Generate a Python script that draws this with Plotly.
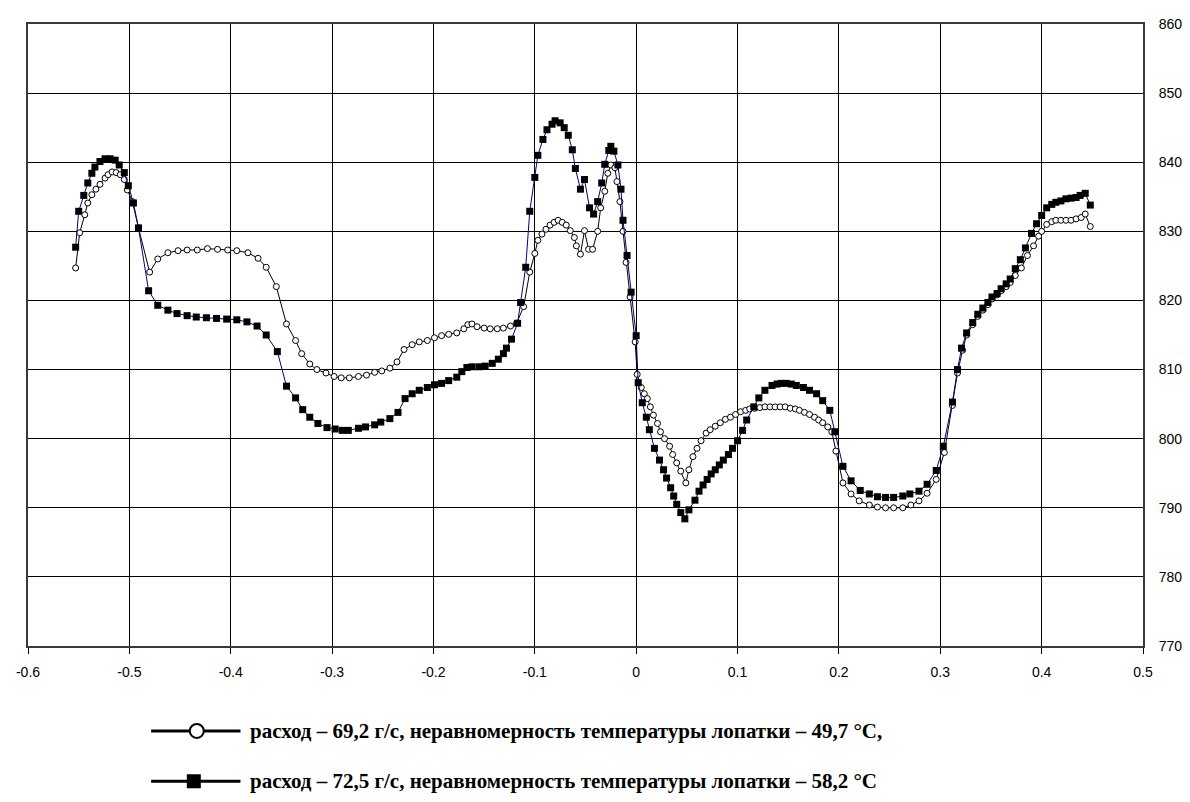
import plotly.graph_objects as go

# Series 1: open circles (расход 69,2 г/с)
X1 = [-0.553, -0.549, -0.544, -0.541, -0.537, -0.533, -0.529, -0.524, -0.521, -0.517,
      -0.513, -0.509, -0.505, -0.502, -0.497, -0.491, -0.480, -0.472, -0.462, -0.452,
      -0.443, -0.433, -0.423, -0.413, -0.403, -0.394, -0.383, -0.373, -0.365, -0.355,
      -0.345, -0.336, -0.330, -0.322, -0.315, -0.306, -0.298, -0.291, -0.283, -0.274,
      -0.266, -0.258, -0.251, -0.243, -0.236, -0.229, -0.221, -0.214, -0.206, -0.199,
      -0.192, -0.185, -0.177, -0.170, -0.166, -0.162, -0.157, -0.150, -0.144, -0.137,
      -0.131, -0.124, -0.118, -0.111, -0.105, -0.100, -0.097, -0.093, -0.089, -0.085,
      -0.081, -0.077, -0.073, -0.069, -0.065, -0.061, -0.059, -0.055, -0.051, -0.047,
      -0.043, -0.038, -0.035, -0.031, -0.028, -0.025, -0.021, -0.019, -0.016, -0.013,
      -0.010, -0.006, -0.001, 0.001, 0.005, 0.008, 0.011, 0.014, 0.017, 0.021,
      0.024, 0.028, 0.033, 0.036, 0.040, 0.044, 0.049, 0.052, 0.056, 0.060,
      0.064, 0.069, 0.073, 0.078, 0.083, 0.088, 0.093, 0.098, 0.103, 0.108,
      0.112, 0.117, 0.122, 0.127, 0.132, 0.137, 0.142, 0.147, 0.152, 0.157,
      0.161, 0.166, 0.171, 0.176, 0.180, 0.184, 0.189, 0.193, 0.197, 0.204,
      0.212, 0.220, 0.230, 0.238, 0.246, 0.254, 0.263, 0.271, 0.279, 0.287,
      0.296, 0.304, 0.312, 0.317, 0.322, 0.326, 0.332, 0.337, 0.342, 0.347,
      0.351, 0.356, 0.360, 0.365, 0.369, 0.374, 0.380, 0.386, 0.392, 0.397,
      0.400, 0.405, 0.410, 0.414, 0.419, 0.424, 0.429, 0.434, 0.439, 0.443, 0.448]
Y1 = [824.7, 829.8, 832.4, 834.1, 835.3, 836.1, 836.8, 837.7, 838.2, 838.6,
      838.5, 838.2, 837.5, 836.0, 834.3, 830.5, 824.1, 826.0, 826.9, 827.2,
      827.3, 827.3, 827.5, 827.4, 827.3, 827.2, 826.9, 826.1, 824.8, 822.0,
      816.6, 814.2, 812.3, 810.8, 810.0, 809.5, 809.0, 808.8, 808.8, 809.0,
      809.2, 809.6, 809.8, 810.2, 811.1, 812.9, 813.6, 814.0, 814.2, 814.6,
      814.9, 815.1, 815.3, 815.9, 816.5, 816.6, 816.2, 816.0, 815.9, 815.9,
      816.0, 816.3, 816.7, 819.1, 824.1, 826.8, 828.7, 829.6, 830.3, 830.9,
      831.3, 831.6, 831.3, 830.9, 830.1, 829.1, 827.9, 826.7, 830.1, 827.4,
      827.4, 830.0, 833.4, 835.8, 838.4, 839.6, 839.2, 837.2, 834.3, 830.0,
      825.5, 820.5, 814.0, 809.3, 807.4, 806.5, 805.8, 804.6, 803.4, 802.2,
      801.0, 800.0, 798.9, 797.7, 796.5, 795.3, 793.6, 795.5, 797.4, 798.6,
      799.7, 800.8, 801.3, 801.8, 802.3, 802.8, 803.1, 803.5, 803.9, 804.1,
      804.3, 804.4, 804.5, 804.6, 804.6, 804.6, 804.6, 804.6, 804.4, 804.3,
      804.1, 803.8, 803.5, 803.1, 802.7, 802.3, 801.7, 801.0, 798.2, 793.6,
      792.0, 791.0, 790.4, 790.1, 790.0, 790.0, 790.0, 790.4, 791.0, 792.1,
      794.1, 798.0, 804.8, 809.5, 812.8, 815.0, 816.5, 817.7, 818.6, 819.4,
      820.2, 820.8, 821.4, 822.0, 822.6, 823.6, 824.7, 826.5, 827.9, 829.3,
      830.0, 831.0, 831.4, 831.6, 831.6, 831.6, 831.6, 831.8, 832.0, 832.5, 830.7]

# Series 2: filled squares (расход 72,5 г/с)
X2 = [-0.553, -0.550, -0.545, -0.541, -0.537, -0.534, -0.529, -0.524, -0.519, -0.514,
      -0.510, -0.505, -0.501, -0.496, -0.491, -0.481, -0.472, -0.462, -0.453, -0.443,
      -0.434, -0.424, -0.414, -0.404, -0.394, -0.384, -0.374, -0.365, -0.354, -0.345,
      -0.336, -0.329, -0.322, -0.314, -0.305, -0.297, -0.290, -0.284, -0.274, -0.267,
      -0.258, -0.252, -0.243, -0.235, -0.228, -0.221, -0.214, -0.206, -0.199, -0.192,
      -0.185, -0.177, -0.172, -0.167, -0.162, -0.155, -0.149, -0.142, -0.136, -0.131,
      -0.128, -0.123, -0.117, -0.114, -0.109, -0.105, -0.100, -0.097, -0.092, -0.088,
      -0.083, -0.080, -0.075, -0.071, -0.067, -0.063, -0.060, -0.055, -0.051, -0.046,
      -0.042, -0.038, -0.034, -0.031, -0.027, -0.025, -0.022, -0.018, -0.015, -0.013,
      -0.009, -0.005, 0.000, 0.002, 0.006, 0.010, 0.013, 0.018, 0.023, 0.027,
      0.030, 0.034, 0.037, 0.040, 0.044, 0.048, 0.052, 0.058, 0.062, 0.066,
      0.070, 0.074, 0.078, 0.082, 0.086, 0.091, 0.095, 0.100, 0.105, 0.109,
      0.116, 0.121, 0.127, 0.134, 0.139, 0.143, 0.148, 0.153, 0.158, 0.165,
      0.171, 0.178, 0.184, 0.191, 0.196, 0.204, 0.212, 0.221, 0.230, 0.238,
      0.246, 0.254, 0.263, 0.270, 0.279, 0.287, 0.296, 0.303, 0.312, 0.317,
      0.321, 0.326, 0.332, 0.337, 0.342, 0.347, 0.351, 0.356, 0.360, 0.365,
      0.369, 0.374, 0.379, 0.384, 0.390, 0.395, 0.400, 0.405, 0.410, 0.414,
      0.419, 0.424, 0.429, 0.434, 0.438, 0.443, 0.448]
Y2 = [827.7, 832.9, 835.2, 837.0, 838.4, 839.3, 840.1, 840.5, 840.5, 840.3,
      839.6, 838.5, 836.6, 834.1, 830.5, 821.4, 819.3, 818.6, 818.1, 817.8,
      817.6, 817.5, 817.4, 817.3, 817.2, 816.9, 816.3, 815.0, 812.6, 807.6,
      805.9, 804.2, 803.1, 802.2, 801.6, 801.4, 801.2, 801.2, 801.5, 801.7,
      802.0, 802.4, 802.9, 803.8, 805.8, 806.5, 807.0, 807.4, 807.8, 808.0,
      808.4, 808.9, 809.7, 810.3, 810.4, 810.4, 810.5, 810.9, 811.5, 812.3,
      813.1, 814.4, 816.7, 819.7, 824.8, 832.9, 837.8, 841.0, 843.3, 844.7,
      845.5, 846.0, 845.7, 845.0, 843.9, 841.8, 839.1, 836.1, 837.5, 833.4,
      832.5, 834.3, 837.0, 839.7, 841.7, 842.3, 841.6, 839.6, 836.1, 831.6,
      826.5, 821.2, 814.9, 808.1, 805.2, 803.1, 801.3, 798.6, 796.9, 795.5,
      794.3, 792.9, 791.7, 790.5, 789.3, 788.4, 789.7, 791.1, 792.4, 793.3,
      794.1, 794.9, 795.5, 796.2, 796.9, 797.7, 798.6, 799.7, 801.2, 802.7,
      804.6, 805.9, 807.0, 807.7, 807.9, 808.0, 808.0, 807.9, 807.7, 807.4,
      807.0, 806.5, 805.5, 804.1, 801.0, 796.0, 793.9, 792.5, 792.0, 791.6,
      791.5, 791.5, 791.7, 792.0, 792.4, 793.4, 795.4, 798.9, 805.3, 810.0,
      813.1, 815.3, 816.8, 818.0, 818.9, 819.7, 820.5, 821.0, 821.7, 822.4,
      823.1, 824.6, 825.9, 827.6, 829.7, 831.1, 832.3, 833.4, 833.9, 834.2,
      834.4, 834.7, 834.8, 834.9, 835.2, 835.5, 833.8]

X_TICKS = [-0.6, -0.5, -0.4, -0.3, -0.2, -0.1, 0.0, 0.1, 0.2, 0.3, 0.4, 0.5]
X_LABELS = ["-0.6", "-0.5", "-0.4", "-0.3", "-0.2", "-0.1", "0", "0.1", "0.2", "0.3", "0.4", "0.5"]
Y_TICKS = [770, 780, 790, 800, 810, 820, 830, 840, 850, 860]

LEGEND = ["расход – 69,2 г/с, неравномерность температуры лопатки – 49,7 °C,",
          "расход – 72,5 г/с, неравномерность температуры лопатки – 58,2 °C"]

# The page body has an 8 px default margin, so the figure is made smaller
# and its margins are reduced so the plot lands where the reference has it.
OFF = 8
W, H = 1182, 786
L, T = 18, 8
pw, ph = 1123, 630
R = W - L - pw
B = H - T - ph

def fx(xw):
    # window x pixel -> paper fraction
    return (xw - OFF - L) / pw

def fy(yw):
    # window y pixel -> paper fraction
    return (H - B - (yw - OFF)) / ph

fig = go.Figure()
fig.add_trace(go.Scatter(
    x=X1, y=Y1, mode="lines+markers", name=LEGEND[0],
    line=dict(color="black", width=1),
    marker=dict(symbol="circle", size=6, color="white", line=dict(color="black", width=1)),
    showlegend=False))
fig.add_trace(go.Scatter(
    x=X2, y=Y2, mode="lines+markers", name=LEGEND[1],
    line=dict(color="#000080", width=1),
    marker=dict(symbol="square", size=7, color="black", line=dict(color="black", width=0)),
    showlegend=False))

axis_common = dict(showgrid=True, gridcolor="black", gridwidth=1,
                   showline=True, linecolor="#3a3a3a", linewidth=2, mirror=True,
                   zeroline=False,
                   tickfont=dict(family="Liberation Sans, Arial", size=14, color="black"))

fig.update_xaxes(range=[-0.6, 0.5], tickvals=X_TICKS, ticktext=X_LABELS,
                 ticks="outside", ticklen=6, tickcolor="black", ticklabelstandoff=6,
                 **axis_common)
fig.update_yaxes(range=[770, 860], tickvals=Y_TICKS, side="right",
                 ticks="", ticklabelstandoff=11, **axis_common)

shapes = []
annotations = []
rows_y = [732, 783]
for i, ry in enumerate(rows_y):
    shapes.append(dict(type="line", xref="paper", yref="paper",
                       x0=fx(150), x1=fx(240), y0=fy(ry), y1=fy(ry),
                       line=dict(color="black", width=3)))
    if i == 0:
        shapes.append(dict(type="circle", xref="paper", yref="paper",
                           xsizemode="pixel", ysizemode="pixel",
                           xanchor=fx(196), yanchor=fy(ry),
                           x0=-7, x1=7, y0=-7, y1=7,
                           fillcolor="white", line=dict(color="black", width=2)))
    else:
        shapes.append(dict(type="rect", xref="paper", yref="paper",
                           xsizemode="pixel", ysizemode="pixel",
                           xanchor=fx(193), yanchor=fy(ry),
                           x0=-7, x1=7, y0=-7, y1=7,
                           fillcolor="black", line=dict(color="black", width=0)))
    annotations.append(dict(text="<b>" + LEGEND[i] + "</b>", xref="paper", yref="paper",
                            x=fx(248), y=fy(ry), xanchor="left", yanchor="middle",
                            showarrow=False,
                            font=dict(family="Liberation Serif, Times New Roman", size=21, color="black")))

fig.update_layout(width=W, height=H, margin=dict(l=L, r=R, t=T, b=B),
                  plot_bgcolor="white", paper_bgcolor="white",
                  shapes=shapes, annotations=annotations)

fig.write_html("out.html")
